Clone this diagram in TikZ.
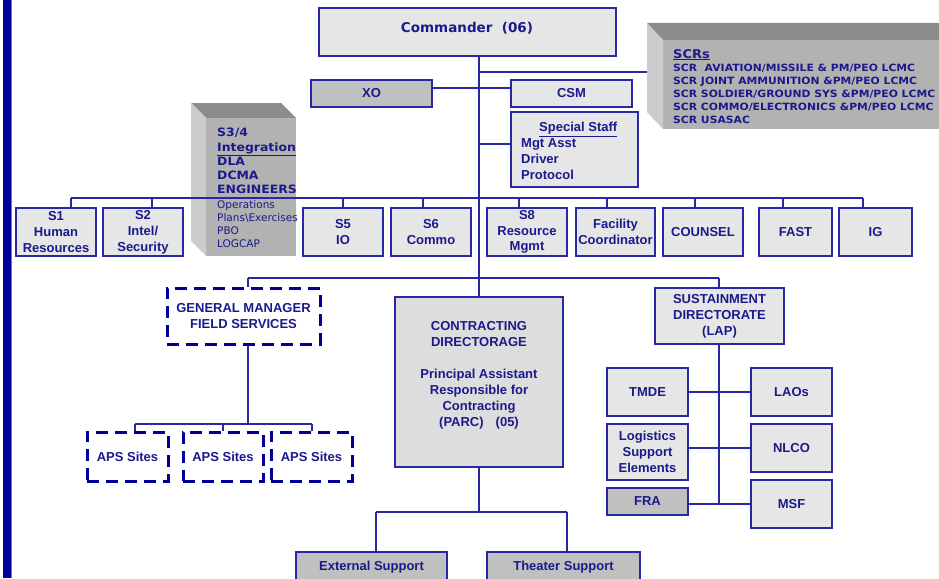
\documentclass[tikz,border=0pt]{standalone}
\usepackage{fontspec}
\setmainfont{Liberation Sans}
\newfontfamily\dvs{DejaVu Sans}[FakeStretch=1.08]
\newfontfamily\dvsn{DejaVu Sans}
\definecolor{navy}{RGB}{26,26,140}
\definecolor{lineblue}{RGB}{40,40,165}
\definecolor{barblue}{RGB}{0,0,153}
\definecolor{baredge}{RGB}{110,110,200}
\definecolor{lightg}{RGB}{230,230,230}
\definecolor{darkg}{RGB}{192,192,192}
\definecolor{contrg}{RGB}{221,221,221}
\definecolor{frontg}{RGB}{178,178,178}
\definecolor{topg}{RGB}{140,140,140}
\definecolor{sideg}{RGB}{204,204,204}
\pgfdeclarelayer{back}
\pgfdeclarelayer{mid}
\pgfsetlayers{back,mid,main}
\tikzset{
  box/.style={draw=lineblue, line width=1.3pt, fill=lightg, text=navy,
    font=\bfseries\fontsize{13}{16}\selectfont, align=center, inner sep=0pt},
  dbox/.style={draw=barblue, line width=3pt, dash pattern=on 12pt off 7pt, fill=white, text=navy,
    font=\bfseries\fontsize{13}{16}\selectfont, align=center, inner sep=0pt},
  txt/.style={text=navy, font=\bfseries\fontsize{13}{16}\selectfont, align=center, inner sep=0pt},
  conn/.style={draw=lineblue, line width=1.2pt},
}
\begin{document}
\begin{tikzpicture}[x=1pt,y=-1pt]
\useasboundingbox (0,0) rectangle (939,578);
\begin{pgfonlayer}{back}
\fill[white] (0,0) rectangle (939,578);
% 3D boxes
\begin{scope}
\clip (0,0) rectangle (939,578);
\fill[topg] (647,23) -- (940,23) -- (956,40) -- (663,40) -- cycle;
\fill[frontg] (663,40) rectangle (956,129);
\fill[sideg] (647,23) -- (663,40) -- (663,129) -- (647,112) -- cycle;
\end{scope}
\fill[topg] (191,103) -- (281,103) -- (296,118) -- (206,118) -- cycle;
\fill[frontg] (206,118) rectangle (296,256);
\fill[sideg] (191,103) -- (206,118) -- (206,256) -- (191,241) -- cycle;
% left bar
\fill[barblue] (3,0) rectangle (11.5,578);
\draw[baredge, line width=0.6pt] (11.5,0) -- (11.5,578);
\end{pgfonlayer}

% top
\node[box, minimum width=297pt, minimum height=48pt] (cmd) at (467.5,32) {};
\node[txt, font=\dvsn\bfseries\fontsize{13.5}{16}\selectfont] (cmdtxt) at (467,28) {Commander\ \ (06)};
\node[box, fill=darkg, minimum width=121pt, minimum height=27pt] (xo) at (371.5,93.5) {XO};
\node[box, minimum width=121pt, minimum height=27pt] (csm) at (571.5,93.5) {CSM};
\node[box, minimum width=127pt, minimum height=75pt] (special) at (574.5,149.5) {};
\node[txt, anchor=north west, align=left] (spectxt) at (521,122)
  {\hspace*{18pt}\underline{Special Staff}\\Mgt Asst\\Driver\\Protocol};

% SCRs text
\node[anchor=north west, align=left, inner sep=0pt, text=navy,
  font=\dvs\bfseries\fontsize{10}{13}\selectfont] (scrtxt) at (673,49)
  {\underline{\fontsize{12}{13}\selectfont SCRs}\\
   SCR\ \ AVIATION/MISSILE \& PM/PEO LCMC\\
   SCR JOINT AMMUNITION \&PM/PEO LCMC\\
   SCR SOLDIER/GROUND SYS \&PM/PEO LCMC\\
   SCR COMMO/ELECTRONICS \&PM/PEO LCMC\\
   SCR USASAC};
\coordinate (scrside) at (647,72);

% S3/4 text
\node[anchor=north west, align=left, inner sep=0pt, text=navy,
  font=\dvs\bfseries\fontsize{11.5}{14.3}\selectfont] (s34txt) at (217,128)
  {S3/4\\\underline{Integration}\\DLA\\DCMA\\ENGINEERS};
\node[anchor=north west, align=left, inner sep=0pt, text=navy,
  font=\dvsn\fontsize{10.5}{13}\selectfont] (s34sub) at (217,200)
  {Operations\\Plans\textbackslash Exercises\\PBO\\LOGCAP};

% staff row
\node[box, minimum width=80pt, minimum height=48pt] (s1) at (56,232) {S1\\Human\\Resources};
\node[box, minimum width=80pt, minimum height=48pt] (s2) at (143,232) {S2\\Intel/\\Security};
\node[box, minimum width=80pt, minimum height=48pt] (s5) at (343,232) {S5\\IO};
\node[box, minimum width=80pt, minimum height=48pt] (s6) at (431,232) {S6\\Commo};
\node[box, minimum width=80pt, minimum height=48pt, font=\bfseries\fontsize{13}{15.5}\selectfont] (s8) at (527,232) {S8\\Resource\\Mgmt};
\node[box, minimum width=79pt, minimum height=48pt] (fac) at (615.5,232) {Facility\\Coordinator};
\node[box, minimum width=80pt, minimum height=48pt] (counsel) at (703,232) {COUNSEL};
\node[box, minimum width=73pt, minimum height=48pt] (fast) at (795.5,232) {FAST};
\node[box, minimum width=73pt, minimum height=48pt] (ig) at (875.5,232) {IG};

% general manager
\node[dbox, minimum width=153pt, minimum height=56pt] (gm) at (243.5,316) {GENERAL MANAGER\\FIELD SERVICES};
\node[dbox, minimum width=81pt, minimum height=49pt] (aps1) at (127.5,456.5) {APS Sites};
\node[dbox, minimum width=80pt, minimum height=49pt] (aps2) at (223,456.5) {APS Sites};
\node[dbox, minimum width=81pt, minimum height=49pt] (aps3) at (311.5,456.5) {APS Sites};

% contracting
\node[box, fill=contrg, minimum width=168pt, minimum height=170pt] (contr) at (479,382) {};
\node[txt] (contrtxt) at (479,375)
  {CONTRACTING\\DIRECTORAGE\\[16pt]Principal Assistant\\Responsible for\\Contracting\\(PARC)\hspace{12pt}(05)};
\node[box, fill=darkg, minimum width=151pt, minimum height=36pt] (ext) at (371.5,570) {};
\node[txt] (exttxt) at (371.5,567) {External Support};
\node[box, fill=darkg, minimum width=153pt, minimum height=36pt] (thea) at (563.5,570) {};
\node[txt] (theatxt) at (563.5,567) {Theater Support};

% sustainment
\node[box, minimum width=129pt, minimum height=56pt] (sust) at (719.5,316) {SUSTAINMENT\\DIRECTORATE\\(LAP)};
\node[box, minimum width=81pt, minimum height=48pt] (tmde) at (647.5,392) {TMDE};
\node[box, minimum width=81pt, minimum height=48pt] (laos) at (791.5,392) {LAOs};
\node[box, minimum width=81pt, minimum height=56pt] (lse) at (647.5,452) {Logistics\\Support\\Elements};
\node[box, minimum width=81pt, minimum height=48pt] (nlco) at (791.5,448) {NLCO};
\node[box, fill=darkg, minimum width=81pt, minimum height=27pt] (fra) at (647.5,501.5) {FRA};
\node[box, minimum width=81pt, minimum height=48pt] (msf) at (791.5,504) {MSF};

% connectors
\begin{pgfonlayer}{mid}
\coordinate (trunktop) at (479,56);
\draw[conn] (trunktop) -- (contr.north);
\coordinate (scrj) at (479,72);
\draw[conn] (scrj) -- (scrside);
\coordinate (xoj) at (479,88);
\draw[conn] (xoj -| xo.east) -- (xoj -| csm.west);
\coordinate (spj) at (479,144);
\draw[conn] (spj) -- (spj -| special.west);
% staff bus
\coordinate (busL) at (71,198);
\coordinate (busR) at (863,198);
\draw[conn] (busL) -- (busR);
\foreach \n/\x in {s1/71, s2/152, s5/343, s6/423, s8/519, fac/607, counsel/695, fast/783, ig/863}{
  \draw[conn] (\x,198) -- (\x,198 |- \n.north);
}
% directorate bus
\coordinate (dbL) at (248,278);
\coordinate (dbR) at (719,278);
\draw[conn] (dbL) -- (dbR);
\draw[conn] (dbL) -- (dbL |- gm.north);
\draw[conn] (dbR) -- (dbR |- sust.north);
% APS
\coordinate (apsj) at (248,424);
\draw[conn] (apsj |- gm.south) -- (apsj);
\draw[conn] (135,424) -- (312,424);
\draw[conn] (135,424) -- (135,424 |- aps1.north);
\draw[conn] (223,424) -- (223,424 |- aps2.north);
\draw[conn] (312,424) -- (312,424 |- aps3.north);
% contracting children
\coordinate (cj) at (479,512);
\draw[conn] (contr.south) -- (cj);
\draw[conn] (376,512) -- (567,512);
\draw[conn] (376,512) -- (376,512 |- ext.north);
\draw[conn] (567,512) -- (567,512 |- thea.north);
% sustainment children
\coordinate (sj) at (719,503);
\draw[conn] (sust.south -| sj) -- (sj);
\draw[conn] (tmde.east) -- (laos.west);
\draw[conn] (nlco.west) -- (nlco.west -| lse.east);
\draw[conn] (msf.west) -- (msf.west -| fra.east);
\end{pgfonlayer}
\end{tikzpicture}
\end{document}
